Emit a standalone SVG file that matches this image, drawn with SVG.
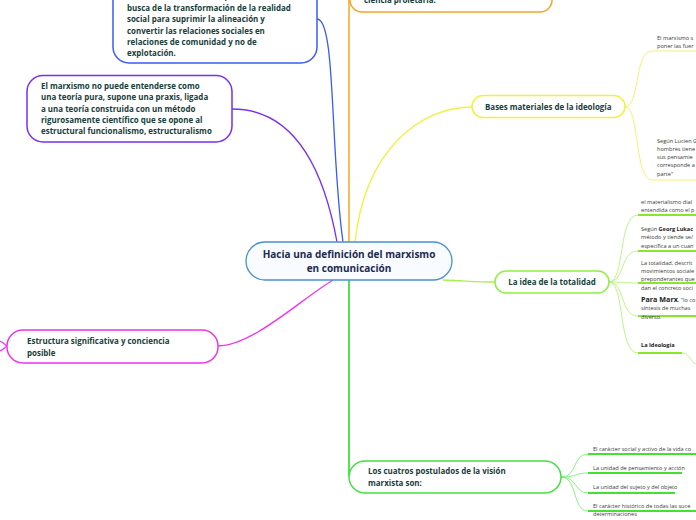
<svg xmlns="http://www.w3.org/2000/svg" width="696" height="520" viewBox="0 0 696 520">
<style>
.bg{fill:#ffffff}
.node{fill:#ffffff;stroke-width:1.5}
.t{font-family:"Open Sans","Noto Sans",sans-serif;font-weight:bold;font-size:7.95px;fill:#17403a}
.tc{font-family:"Open Sans","Noto Sans",sans-serif;font-weight:bold;font-size:10px;fill:#1c2b4f;text-anchor:middle}
.s{font-family:"Open Sans","Noto Sans",sans-serif;font-size:5.6px;fill:#3a3a3a}
.sb{font-weight:bold;fill:#222}
.c{fill:none}
</style>
<rect class="bg" x="0" y="0" width="696" height="520"/>
<g id="connectors">
  <path class="c" d="M317 19 C336 19 330 150 343 242" stroke="#3a5cf0" stroke-width="1.3"/>
  <path class="c" d="M232 109 C290 109 322 160 337 242" stroke="#7a2ff0" stroke-width="1.3"/>
  <path class="c" d="M349 0 L349 242" stroke="#f5a623" stroke-width="1.5"/>
  <path class="c" d="M355 242 C365 150 420 107 472 107" stroke="#f2f040" stroke-width="1.3"/>
  <path class="c" d="M218 346 C252 346 300 300 333 280" stroke="#f030f0" stroke-width="1.3"/>
  <path class="c" d="M0 341 C4 343 5 345 7 346 C5 347 4 349 0 351" stroke="#f030f0" stroke-width="1.2"/>
  <path class="c" d="M443 280 C468 281 480 282 495 282" stroke="#a8f050" stroke-width="1.3"/>
  <path class="c" d="M349 280 L349 476" stroke="#40e040" stroke-width="1.8"/>
  <path class="c" d="M625 107 C640 107 634 51 652 51 L696 51" stroke="#f4f060" stroke-width="0.9"/>
  <path class="c" d="M625 107 C640 107 634 180 652 180 L696 180" stroke="#f4f060" stroke-width="0.9"/>
  <g stroke="#b4f57a" stroke-width="0.9" class="c">
    <path d="M609 282 C625 282 618 215 638 215"/>
    <path d="M609 282 C625 282 620 251 638 251"/>
    <path d="M609 282 C625 282 622 283 638 283"/>
    <path d="M609 282 C625 282 620 316 638 316"/>
    <path d="M609 282 C625 282 618 353 638 353"/>
  </g>
  <g stroke="#86e828" stroke-width="2" class="c">
    <path d="M638 215 L696 215"/>
    <path d="M638 251 L696 251"/>
    <path d="M638 283 L696 283"/>
    <path d="M638 316 L696 316"/>
    <path d="M638 353 L682 353"/>
  </g>
  <path class="c" d="M682 353 C690 353 690 362 696 364" stroke="#b4f57a" stroke-width="0.9"/>
  <g stroke="#7af07a" stroke-width="0.9" class="c">
    <path d="M561 477 C578 477 572 454 588 454"/>
    <path d="M561 477 C578 477 574 473 588 473"/>
    <path d="M561 477 C578 477 574 493 588 493"/>
    <path d="M561 477 C578 477 572 511 588 511"/>
  </g>
  <g stroke="#46e030" stroke-width="2" class="c">
    <path d="M588 454 L696 454"/>
    <path d="M588 473 L682 473"/>
    <path d="M588 493 L675 493"/>
    <path d="M588 511 L696 511"/>
  </g>
</g>
<g id="node-top-blue">
  <rect class="node" x="113" y="-40" width="204" height="103" rx="16" stroke="#3a5cf0"/>
  <text class="t" x="127" y="-1">una clase social: la clase proletaria en</text>
  <text class="t" x="127" y="10.5">busca de la transformación de la realidad</text>
  <text class="t" x="127" y="22">social para suprimir la alineación y</text>
  <text class="t" x="127" y="33.5">convertir las relaciones sociales en</text>
  <text class="t" x="127" y="45">relaciones de comunidad y no de</text>
  <text class="t" x="127" y="56">explotación.</text>
</g>
<g id="node-purple">
  <rect class="node" x="27" y="75.5" width="205" height="66.5" rx="16" stroke="#7a2ff0"/>
  <text class="t" x="41" y="88.5">El marxismo no puede entenderse como</text>
  <text class="t" x="41" y="100">una teoría pura, supone una praxis, ligada</text>
  <text class="t" x="41" y="111.5">a una teoría construida con un método</text>
  <text class="t" x="41" y="122.5">rigurosamente científico que se opone al</text>
  <text class="t" x="41" y="134">estructural funcionalismo, estructuralismo</text>
</g>
<g id="node-magenta">
  <rect class="node" x="7" y="330" width="211" height="33" rx="16" stroke="#f030f0"/>
  <text class="t" x="27" y="344">Estructura significativa y conciencia</text>
  <text class="t" x="27" y="355.5">posible</text>
</g>
<g id="node-top-orange">
  <rect class="node" x="350" y="-30" width="202" height="42" rx="12" stroke="#f5a623"/>
  <text class="t" x="364" y="3">ciencia proletaria.</text>
</g>
<g id="node-center">
  <rect x="246" y="242" width="206" height="38" rx="19" fill="#f8fbff" stroke="#4a90d0" stroke-width="1.3"/>
  <text class="tc" x="349" y="258">Hacia una definición del marxismo</text>
  <text class="tc" x="349" y="272">en comunicación</text>
</g>
<g id="node-bases">
  <rect class="node" x="472" y="95.5" width="153" height="22" rx="11" stroke="#f2f040"/>
  <text class="t" x="485" y="109.5">Bases materiales de la ideología</text>
</g>
<g id="bases-children">
  <text class="s" x="657" y="40">El marxismo s</text>
  <text class="s" x="657" y="48">poner las fuer</text>
  <text class="s" x="657" y="143">Según Lucien G</text>
  <text class="s" x="657" y="151">hombres tiene</text>
  <text class="s" x="657" y="159">sus pensamie</text>
  <text class="s" x="657" y="167">corresponde a</text>
  <text class="s" x="657" y="176">parte"</text>
</g>
<g id="node-totalidad">
  <rect class="node" x="495" y="271" width="114" height="22" rx="11" stroke="#8ef040"/>
  <text class="t" x="552" y="285" text-anchor="middle">La idea de la totalidad</text>
</g>
<g id="totalidad-children">
  <text class="s" x="641" y="204">el materialismo dial</text>
  <text class="s" x="641" y="212">entendida como el p</text>
  <text class="s" x="641" y="231">Según <tspan class="sb">Georg Lukac</tspan></text>
  <text class="s" x="641" y="239">método y tiende se/</text>
  <text class="s" x="641" y="248">específica a un cuan</text>
  <text class="s" x="641" y="265">La totalidad, descrit</text>
  <text class="s" x="641" y="273">movimientos sociale</text>
  <text class="s" x="641" y="281">preponderantes que</text>
  <text class="s" x="641" y="290">dan el concreto soci</text>
  <text class="s" x="641" y="302"><tspan class="sb" font-size="7.2px">Para Marx</tspan>, "lo co</text>
  <text class="s" x="641" y="310">síntesis de muchas</text>
  <text class="s" x="641" y="319">diverso.</text>
  <text class="s sb" x="641" y="347">La Ideología</text>
</g>
<g id="node-postulados">
  <rect class="node" x="349" y="461" width="212" height="32" rx="16" stroke="#40e040"/>
  <text class="t" x="368" y="474">Los cuatros postulados de la visión</text>
  <text class="t" x="368" y="486">marxista son:</text>
</g>
<g id="postulados-children">
  <text class="s" x="593" y="451">El carácter social y activo de la vida co</text>
  <text class="s" x="593" y="470">La unidad de pensamiento y acción</text>
  <text class="s" x="593" y="489">La unidad del sujeto y del objeto</text>
  <text class="s" x="593" y="508">El carácter histórico de todas las suce</text>
  <text class="s" x="593" y="516">determinaciones</text>
</g>
</svg>
